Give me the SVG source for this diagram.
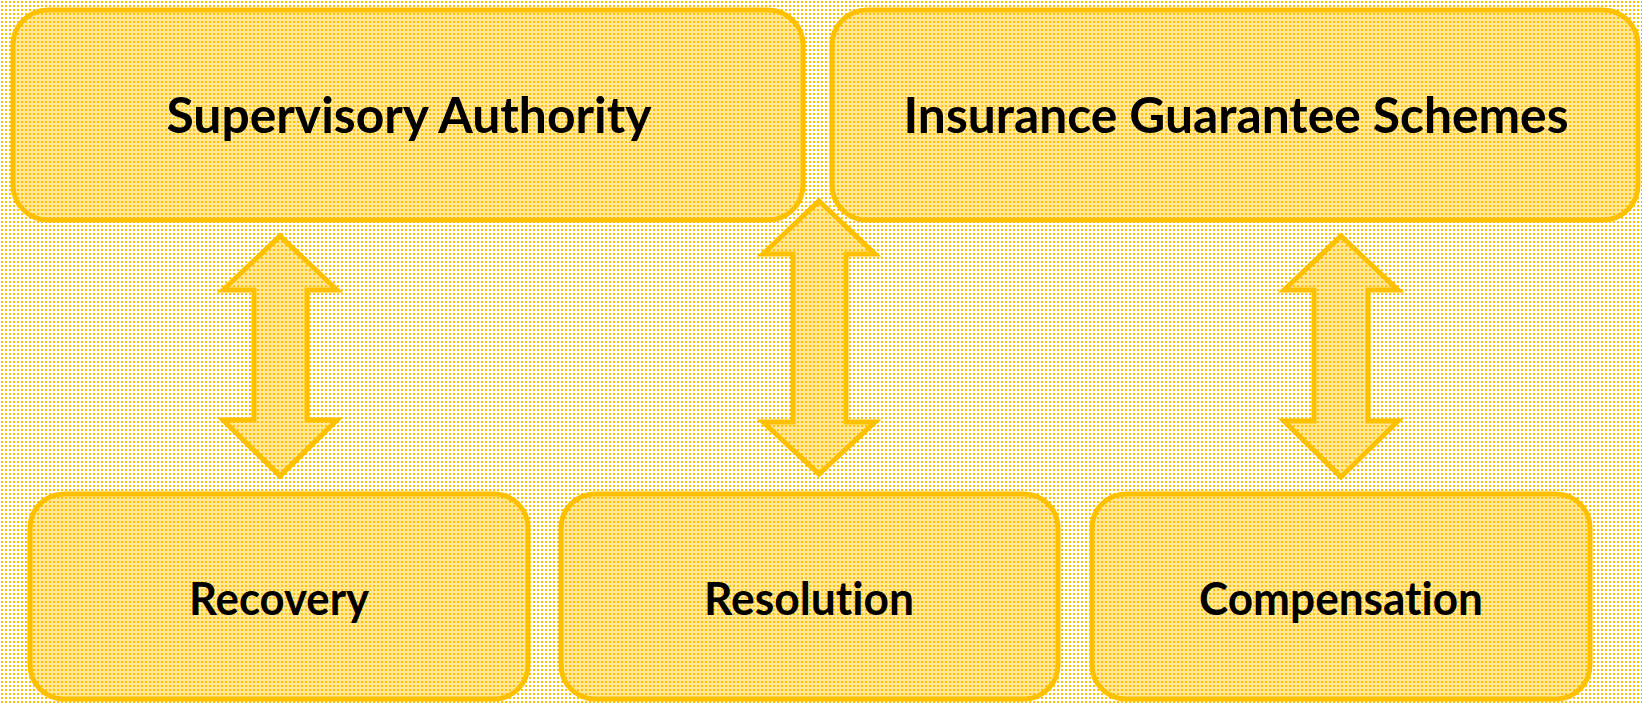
<svg xmlns="http://www.w3.org/2000/svg" width="1642" height="703" viewBox="0 0 1642 703">
  <defs>
    <!-- dotted texture: orange 2x2 dots on a 4px grid -->
    <pattern id="dotsPaper" patternUnits="userSpaceOnUse" x="0" y="0" width="4" height="4">
      <rect width="4" height="4" fill="#ffffff"/>
      <rect x="1" y="1" width="2" height="2" fill="#ffc000"/>
    </pattern>
    <pattern id="dotsGold" patternUnits="userSpaceOnUse" x="0" y="0" width="4" height="4">
      <rect width="4" height="4" fill="#ffe699"/>
      <rect x="1" y="1" width="2" height="2" fill="#ffc000"/>
    </pattern>
    <style>
      .box { fill: url(#dotsGold); stroke: #ffc000; stroke-width: 5; }
      .arrow { fill: url(#dotsGold); stroke: #ffc000; stroke-width: 5; stroke-linejoin: miter; }
      .label { font-family: Lato, "Open Sans", "Liberation Sans", sans-serif; font-weight: 700; fill: #000000; text-anchor: middle; font-variant-ligatures: none; }
      .big { font-size: 50px; }
      .small { font-size: 45px; }
    </style>
  </defs>

  <rect x="0" y="0" width="1642" height="703" fill="url(#dotsPaper)"/>

  <!-- double-headed block arrows -->
  <g id="connectors">
    <polygon class="arrow" points="280,236 337,290 307,290 307,420 337,420 280,476 223,420 254,420 254,290 223,290"/>
    <polygon class="arrow" points="819,201 875,254 846,254 846,422 875,422 819,474 763,422 793,422 793,254 763,254"/>
    <polygon class="arrow" points="1341,236 1398,290 1368,290 1368,421 1398,421 1341,477 1284,421 1314,421 1314,290 1284,290"/>
  </g>

  <g id="supervisory-authority">
    <rect class="box" x="13" y="10" width="790" height="210" rx="35" ry="35"/>
    <text class="label big" x="409" y="133" textLength="485" lengthAdjust="spacingAndGlyphs">Supervisory Authority</text>
  </g>

  <g id="insurance-guarantee-schemes">
    <rect class="box" x="832" y="10" width="806" height="210" rx="35" ry="35"/>
    <text class="label big" x="1236" y="133" textLength="665" lengthAdjust="spacingAndGlyphs">Insurance Guarantee Schemes</text>
  </g>

  <g id="recovery">
    <rect class="box" x="30" y="494" width="498" height="205" rx="34" ry="34"/>
    <text class="label small" x="279" y="615" textLength="180" lengthAdjust="spacingAndGlyphs">Recovery</text>
  </g>

  <g id="resolution">
    <rect class="box" x="561" y="494" width="497" height="205" rx="34" ry="34"/>
    <text class="label small" x="809" y="615" textLength="210" lengthAdjust="spacingAndGlyphs">Resolution</text>
  </g>

  <g id="compensation">
    <rect class="box" x="1092" y="494" width="498" height="205" rx="34" ry="34"/>
    <text class="label small" x="1341" y="615" textLength="284" lengthAdjust="spacingAndGlyphs">Compensation</text>
  </g>
</svg>
